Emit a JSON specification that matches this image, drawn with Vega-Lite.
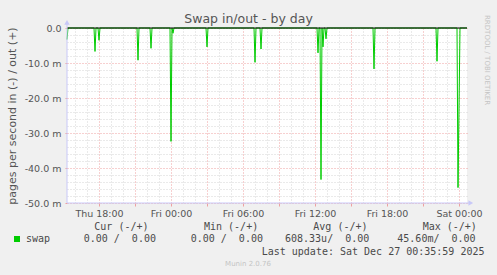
{
  "$schema": "https://vega.github.io/schema/vega-lite/v6.json",
  "width": 400,
  "height": 175,
  "autosize": "none",
  "padding": {"left": 67, "top": 28, "right": 30, "bottom": 72},
  "background": "#f0f0f0",
  "view": {"fill": "#ffffff", "stroke": null},
  "config": {
    "font": "DejaVu Sans",
    "text": {"font": "DejaVu Sans Mono", "fontSize": 10, "fill": "#4a4a4a", "align": "left", "baseline": "middle"}
  },
  "title": {
    "text": "Swap in/out - by day",
    "font": "DejaVu Sans",
    "fontSize": 12.5,
    "fontWeight": "normal",
    "color": "#555555",
    "anchor": "middle",
    "frame": "group",
    "baseline": "middle",
    "dx": -18.5,
    "offset": -16
  },
  "resolve": {"axis": {"x": "independent", "y": "independent"}},
  "datasets": {
    "swap": [
      {"time": "2025-12-25T15:20:00", "value": -0.0033},
      {"time": "2025-12-25T15:25:00", "value": 0},
      {"time": "2025-12-25T17:35:00", "value": 0},
      {"time": "2025-12-25T17:40:00", "value": -0.0067},
      {"time": "2025-12-25T17:45:00", "value": 0},
      {"time": "2025-12-25T17:55:00", "value": 0},
      {"time": "2025-12-25T18:00:00", "value": -0.0035},
      {"time": "2025-12-25T18:05:00", "value": 0},
      {"time": "2025-12-25T21:10:00", "value": 0},
      {"time": "2025-12-25T21:15:00", "value": -0.0092},
      {"time": "2025-12-25T21:20:00", "value": 0},
      {"time": "2025-12-25T22:15:00", "value": 0},
      {"time": "2025-12-25T22:20:00", "value": -0.0058},
      {"time": "2025-12-25T22:25:00", "value": 0},
      {"time": "2025-12-25T23:55:00", "value": 0},
      {"time": "2025-12-26T00:00:00", "value": -0.0324},
      {"time": "2025-12-26T00:05:00", "value": 0},
      {"time": "2025-12-26T00:10:00", "value": -0.0015},
      {"time": "2025-12-26T00:15:00", "value": 0},
      {"time": "2025-12-26T02:55:00", "value": 0},
      {"time": "2025-12-26T03:00:00", "value": -0.0054},
      {"time": "2025-12-26T03:05:00", "value": 0},
      {"time": "2025-12-26T06:55:00", "value": 0},
      {"time": "2025-12-26T07:00:00", "value": -0.0098},
      {"time": "2025-12-26T07:05:00", "value": 0},
      {"time": "2025-12-26T07:25:00", "value": 0},
      {"time": "2025-12-26T07:30:00", "value": -0.006},
      {"time": "2025-12-26T07:35:00", "value": 0},
      {"time": "2025-12-26T12:10:00", "value": 0},
      {"time": "2025-12-26T12:15:00", "value": -0.0071},
      {"time": "2025-12-26T12:20:00", "value": 0},
      {"time": "2025-12-26T12:25:00", "value": 0},
      {"time": "2025-12-26T12:30:00", "value": -0.0433},
      {"time": "2025-12-26T12:35:00", "value": 0},
      {"time": "2025-12-26T12:40:00", "value": -0.0054},
      {"time": "2025-12-26T12:45:00", "value": 0},
      {"time": "2025-12-26T12:50:00", "value": 0},
      {"time": "2025-12-26T12:55:00", "value": -0.0031},
      {"time": "2025-12-26T13:00:00", "value": 0},
      {"time": "2025-12-26T16:50:00", "value": 0},
      {"time": "2025-12-26T16:55:00", "value": -0.0117},
      {"time": "2025-12-26T17:00:00", "value": 0},
      {"time": "2025-12-26T22:05:00", "value": 0},
      {"time": "2025-12-26T22:10:00", "value": -0.0095},
      {"time": "2025-12-26T22:15:00", "value": 0},
      {"time": "2025-12-26T23:50:00", "value": 0},
      {"time": "2025-12-26T23:55:00", "value": -0.0456},
      {"time": "2025-12-27T00:05:00", "value": 0},
      {"time": "2025-12-27T00:40:00", "value": 0}
    ]
  },
  "layer": [
    {
      "data": {"name": "swap"},
      "mark": {"type": "line", "strokeWidth": 1, "interpolate": "linear"},
      "encoding": {
        "x": {
          "field": "time", "type": "temporal",
          "scale": {"domain": [{"year": 2025, "month": 12, "date": 25, "hours": 15, "minutes": 20}, {"year": 2025, "month": 12, "date": 27, "hours": 0, "minutes": 40}], "nice": false},
          "axis": {
            "values": [
              {"year": 2025, "month": 12, "date": 25, "hours": 16}, {"year": 2025, "month": 12, "date": 25, "hours": 17},
              {"year": 2025, "month": 12, "date": 25, "hours": 18}, {"year": 2025, "month": 12, "date": 25, "hours": 19},
              {"year": 2025, "month": 12, "date": 25, "hours": 20}, {"year": 2025, "month": 12, "date": 25, "hours": 21},
              {"year": 2025, "month": 12, "date": 25, "hours": 22}, {"year": 2025, "month": 12, "date": 25, "hours": 23},
              {"year": 2025, "month": 12, "date": 26, "hours": 0}, {"year": 2025, "month": 12, "date": 26, "hours": 1},
              {"year": 2025, "month": 12, "date": 26, "hours": 2}, {"year": 2025, "month": 12, "date": 26, "hours": 3},
              {"year": 2025, "month": 12, "date": 26, "hours": 4}, {"year": 2025, "month": 12, "date": 26, "hours": 5},
              {"year": 2025, "month": 12, "date": 26, "hours": 6}, {"year": 2025, "month": 12, "date": 26, "hours": 7},
              {"year": 2025, "month": 12, "date": 26, "hours": 8}, {"year": 2025, "month": 12, "date": 26, "hours": 9},
              {"year": 2025, "month": 12, "date": 26, "hours": 10}, {"year": 2025, "month": 12, "date": 26, "hours": 11},
              {"year": 2025, "month": 12, "date": 26, "hours": 12}, {"year": 2025, "month": 12, "date": 26, "hours": 13},
              {"year": 2025, "month": 12, "date": 26, "hours": 14}, {"year": 2025, "month": 12, "date": 26, "hours": 15},
              {"year": 2025, "month": 12, "date": 26, "hours": 16}, {"year": 2025, "month": 12, "date": 26, "hours": 17},
              {"year": 2025, "month": 12, "date": 26, "hours": 18}, {"year": 2025, "month": 12, "date": 26, "hours": 19},
              {"year": 2025, "month": 12, "date": 26, "hours": 20}, {"year": 2025, "month": 12, "date": 26, "hours": 21},
              {"year": 2025, "month": 12, "date": 26, "hours": 22}, {"year": 2025, "month": 12, "date": 26, "hours": 23},
              {"year": 2025, "month": 12, "date": 27, "hours": 0}
            ],
            "grid": true,
            "gridColor": {"condition": {"test": "hours(datum.value) % 3 == 0", "value": "#eea0a0"}, "value": "#d4d4d4"},
            "gridDash": [1, 2],
            "ticks": true,
            "tickColor": {"condition": {"test": "hours(datum.value) % 3 == 0", "value": "#eea0a0"}, "value": "transparent"},
            "tickSize": 3,
            "domain": false,
            "labelExpr": "hours(datum.value) % 6 == 0 ? timeFormat(datum.value, '%a %H:%M') : ''",
            "labelFont": "DejaVu Sans", "labelFontSize": 9.5, "labelColor": "#555555", "labelPadding": 2,
            "labelOverlap": false, "labelFlush": false,
            "title": null
          }
        },
        "y": {
          "field": "value", "type": "quantitative",
          "scale": {"domain": [-0.05, 0], "nice": false, "zero": false},
          "axis": {
            "values": [0, -0.002, -0.004, -0.006, -0.008, -0.01, -0.012, -0.014, -0.016, -0.018, -0.02, -0.022, -0.024, -0.026, -0.028, -0.03, -0.032, -0.034, -0.036, -0.038, -0.04, -0.042, -0.044, -0.046, -0.048, -0.05],
            "grid": true,
            "gridColor": {"condition": {"test": "abs(datum.value * 100 - round(datum.value * 100)) < 0.01", "value": "#eea0a0"}, "value": "#d4d4d4"},
            "gridDash": [1, 2],
            "ticks": true,
            "tickColor": {"condition": {"test": "abs(datum.value * 100 - round(datum.value * 100)) < 0.01", "value": "#eea0a0"}, "value": "transparent"},
            "tickSize": 2,
            "domain": false,
            "labelExpr": "abs(datum.value * 100 - round(datum.value * 100)) < 0.01 ? (datum.value == 0 ? '0.0' : '-' + format(abs(datum.value) * 1000, '.1f') + ' m') : ''",
            "labelFont": "DejaVu Sans", "labelFontSize": 9.5, "labelColor": "#555555", "labelPadding": 4, "labelOverlap": false,
            "title": "pages per second in (-) / out (+)", "titleFont": "DejaVu Sans", "titleFontSize": 11,
            "titleFontWeight": "normal", "titleColor": "#555555", "titlePadding": 7
          }
        },
        "color": {
          "datum": "swap", "type": "nominal",
          "scale": {"range": ["#00cc00"]},
          "legend": {
            "orient": "none", "legendX": -55, "legendY": 206, "title": null, "padding": 0,
            "symbolType": "square", "symbolSize": 36, "symbolStrokeWidth": 0, "symbolFillColor": "#00cc00",
            "labelFont": "DejaVu Sans Mono", "labelFontSize": 10, "labelColor": "#4a4a4a", "labelOffset": 4,
            "encode": {"symbols": {"update": {"fill": {"value": "#00cc00"}, "stroke": {"value": "#00cc00"}, "strokeWidth": {"value": 0}}}}
          }
        }
      }
    },
    {
      "data": {"values": [{}]},
      "mark": {"type": "rule", "color": "#000000", "strokeWidth": 1},
      "encoding": {
        "y": {"datum": 0, "type": "quantitative", "axis": null}
      }
    },
    {
      "data": {"values": [{}]},
      "mark": {"type": "rule", "color": "#c8c8f8", "strokeWidth": 1},
      "encoding": {
        "x": {"datum": {"year": 2025, "month": 12, "date": 25, "hours": 15, "minutes": 20}, "type": "temporal", "axis": null},
        "y": {"datum": -0.05, "type": "quantitative", "axis": null},
        "y2": {"datum": 0.0016}
      }
    },
    {
      "data": {"values": [{}]},
      "mark": {"type": "rule", "color": "#c8c8f8", "strokeWidth": 1},
      "encoding": {
        "x": {"datum": {"year": 2025, "month": 12, "date": 25, "hours": 15, "minutes": 20}, "type": "temporal", "axis": null},
        "x2": {"datum": {"year": 2025, "month": 12, "date": 27, "hours": 0, "minutes": 59}},
        "y": {"datum": -0.05, "type": "quantitative", "axis": null}
      }
    },
    {
      "data": {"values": [{}]},
      "mark": {"type": "point", "shape": "triangle-up", "size": 30, "filled": true, "color": "#c8c8f8", "opacity": 1},
      "encoding": {
        "x": {"datum": {"year": 2025, "month": 12, "date": 25, "hours": 15, "minutes": 20}, "type": "temporal", "axis": null},
        "y": {"datum": 0.0016, "type": "quantitative", "axis": null}
      }
    },
    {
      "data": {"values": [{}]},
      "mark": {"type": "point", "shape": "triangle-right", "size": 30, "filled": true, "color": "#c8c8f8", "opacity": 1},
      "encoding": {
        "x": {"datum": {"year": 2025, "month": 12, "date": 27, "hours": 0, "minutes": 59}, "type": "temporal", "axis": null},
        "y": {"datum": -0.05, "type": "quantitative", "axis": null}
      }
    },
    {
      "data": {"values": [{}]},
      "mark": {"type": "text", "text": "Cur (-/+)"},
      "encoding": {
        "x": {"datum": {"year": 2025, "month": 12, "date": 25, "hours": 17, "minutes": 36, "seconds": 30}, "type": "temporal", "axis": null},
        "y": {"datum": -0.05694, "type": "quantitative", "axis": null}
      }
    },
    {
      "data": {"values": [{}]},
      "mark": {"type": "text", "text": "Min (-/+)"},
      "encoding": {
        "x": {"datum": {"year": 2025, "month": 12, "date": 26, "hours": 2, "minutes": 45}, "type": "temporal", "axis": null},
        "y": {"datum": -0.05694, "type": "quantitative", "axis": null}
      }
    },
    {
      "data": {"values": [{}]},
      "mark": {"type": "text", "text": "Avg (-/+)"},
      "encoding": {
        "x": {"datum": {"year": 2025, "month": 12, "date": 26, "hours": 11, "minutes": 51, "seconds": 30}, "type": "temporal", "axis": null},
        "y": {"datum": -0.05694, "type": "quantitative", "axis": null}
      }
    },
    {
      "data": {"values": [{}]},
      "mark": {"type": "text", "text": "Max (-/+)"},
      "encoding": {
        "x": {"datum": {"year": 2025, "month": 12, "date": 26, "hours": 20, "minutes": 58, "seconds": 30}, "type": "temporal", "axis": null},
        "y": {"datum": -0.05694, "type": "quantitative", "axis": null}
      }
    },
    {
      "data": {"values": [{}]},
      "mark": {"type": "text", "text": "0.00 /\u00a0 0.00"},
      "encoding": {
        "x": {"datum": {"year": 2025, "month": 12, "date": 25, "hours": 16, "minutes": 43, "seconds": 30}, "type": "temporal", "axis": null},
        "y": {"datum": -0.060286, "type": "quantitative", "axis": null}
      }
    },
    {
      "data": {"values": [{}]},
      "mark": {"type": "text", "text": "0.00 /\u00a0 0.00"},
      "encoding": {
        "x": {"datum": {"year": 2025, "month": 12, "date": 26, "hours": 1, "minutes": 38, "seconds": 30}, "type": "temporal", "axis": null},
        "y": {"datum": -0.060286, "type": "quantitative", "axis": null}
      }
    },
    {
      "data": {"values": [{}]},
      "mark": {"type": "text", "text": "608.33u/\u00a0 0.00"},
      "encoding": {
        "x": {"datum": {"year": 2025, "month": 12, "date": 26, "hours": 9, "minutes": 30}, "type": "temporal", "axis": null},
        "y": {"datum": -0.060286, "type": "quantitative", "axis": null}
      }
    },
    {
      "data": {"values": [{}]},
      "mark": {"type": "text", "text": "45.60m/\u00a0 0.00"},
      "encoding": {
        "x": {"datum": {"year": 2025, "month": 12, "date": 26, "hours": 18, "minutes": 51, "seconds": 30}, "type": "temporal", "axis": null},
        "y": {"datum": -0.060286, "type": "quantitative", "axis": null}
      }
    },
    {
      "data": {"values": [{}]},
      "mark": {"type": "text", "text": "Last update: Sat Dec 27 00:35:59 2025"},
      "encoding": {
        "x": {"datum": {"year": 2025, "month": 12, "date": 26, "hours": 7, "minutes": 33, "seconds": 30}, "type": "temporal", "axis": null},
        "y": {"datum": -0.063914, "type": "quantitative", "axis": null}
      }
    },
    {
      "data": {"values": [{}]},
      "mark": {"type": "text", "text": "Munin 2.0.76", "font": "DejaVu Sans", "fontSize": 7, "fill": "#c4c4c4", "align": "center"},
      "encoding": {
        "x": {"datum": {"year": 2025, "month": 12, "date": 26, "hours": 6, "minutes": 25}, "type": "temporal", "axis": null},
        "y": {"datum": -0.067514, "type": "quantitative", "axis": null}
      }
    },
    {
      "data": {"values": [{}]},
      "mark": {"type": "text", "text": "RRDTOOL / TOBI OETIKER", "font": "DejaVu Sans", "fontSize": 7, "fill": "#c4c4c4", "align": "left", "angle": 90},
      "encoding": {
        "x": {"datum": {"year": 2025, "month": 12, "date": 27, "hours": 2, "minutes": 20}, "type": "temporal", "axis": null},
        "y": {"datum": 0.003714, "type": "quantitative", "axis": null}
      }
    }
  ]
}
